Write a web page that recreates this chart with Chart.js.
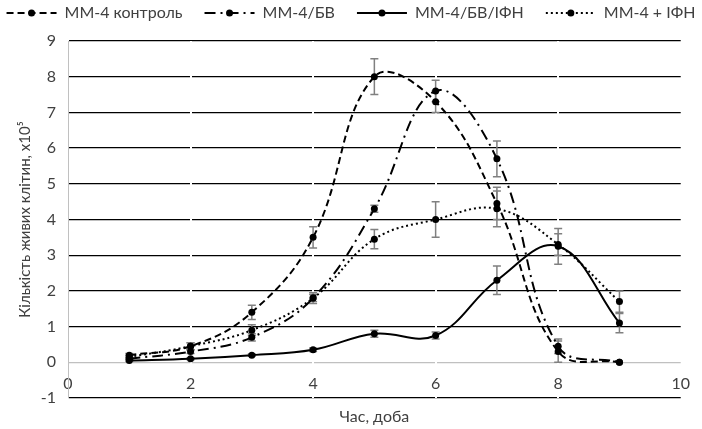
<!DOCTYPE html>
<html>
<head>
<meta charset="utf-8">
<script src="https://cdn.jsdelivr.net/npm/chart.js@4"></script>
<style>
  html, body { margin: 0; padding: 0; background: #fff; overflow: hidden; }
  canvas { display: block; }
</style>
</head>
<body>
<canvas id="chart" width="702" height="429"></canvas>
<script>
// дані графіка
const days = [1, 2, 3, 4, 5, 6, 7, 8, 9];
const control = [0.2, 0.45, 1.4, 3.5, 8.0, 7.3, 4.45, 0.3, 0];
const controlErr = [0.05, 0.1, 0.2, 0.3, 0.5, 0.3, 0.45, 0.3, 0];
const bv = [0.1, 0.3, 0.7, 1.8, 4.3, 7.6, 5.7, 0.45, 0];
const bvErr = [0.03, 0.05, 0.1, 0.1, 0.1, 0.3, 0.5, 0.2, 0];
const bvIfn = [0.05, 0.1, 0.2, 0.35, 0.8, 0.75, 2.3, 3.25, 1.1];
const bvIfnErr = [0.03, 0.03, 0.03, 0.05, 0.1, 0.1, 0.4, 0.5, 0.27];
const ifn = [0.15, 0.45, 0.9, 1.8, 3.45, 4.0, 4.3, 3.3, 1.7];
const ifnErr = [0.05, 0.1, 0.15, 0.15, 0.27, 0.5, 0.5, 0.3, 0.3];

const seriesNames = ['ММ-4 контроль', 'ММ-4/БВ', 'ММ-4/БВ/ІФН', 'ММ-4 + ІФН'];
const xTicks = [0, 2, 4, 6, 8, 10];
const yTicks = [-1, 0, 1, 2, 3, 4, 5, 6, 7, 8, 9];

const FONT = 'Lato, "Open Sans", sans-serif';
const TEXT = '#404040';

function pts(vals) {
  return days.map((d, i) => ({ x: d, y: vals[i] }));
}

function ds(label, vals, errs, dash) {
  return {
    label: label,
    data: pts(vals),
    errors: errs,
    borderColor: '#000',
    backgroundColor: '#000',
    borderWidth: 2,
    borderDash: dash,
    pointRadius: 3.5,
    pointBorderWidth: 0,
    tension: 0.4,
    fill: false
  };
}

// похибки (сірі вуса)
const errorBars = {
  id: 'errorBars',
  beforeDatasetsDraw(chart) {
    const ctx = chart.ctx;
    const y = chart.scales.y;
    ctx.save();
    ctx.strokeStyle = '#808080';
    ctx.lineWidth = 1.5;
    chart.data.datasets.forEach((d, di) => {
      const meta = chart.getDatasetMeta(di);
      meta.data.forEach((p, i) => {
        const e = d.errors[i];
        if (!e) return;
        const v = d.data[i].y;
        const top = y.getPixelForValue(v + e);
        const bot = y.getPixelForValue(v - e);
        ctx.beginPath();
        ctx.moveTo(p.x, top); ctx.lineTo(p.x, bot);
        ctx.moveTo(p.x - 4, top); ctx.lineTo(p.x + 4, top);
        ctx.moveTo(p.x - 4, bot); ctx.lineTo(p.x + 4, bot);
        ctx.stroke();
      });
    });
    ctx.restore();
  }
};

// легенда та підписи осей
const extras = {
  id: 'extras',
  afterDraw(chart) {
    const ctx = chart.ctx;
    const area = chart.chartArea;
    ctx.save();
    ctx.fillStyle = '#000';
    ctx.font = '16px ' + FONT;
    ctx.textBaseline = 'middle';
    const sample = 50, gapText = 8, gapItem = 22, ly = 13;
    const widths = seriesNames.map(n => ctx.measureText(n).width);
    let total = widths.reduce((a, b) => a + b, 0) + seriesNames.length * (sample + gapText) + (seriesNames.length - 1) * gapItem;
    let x = (chart.width - total) / 2;
    chart.data.datasets.forEach((d, i) => {
      ctx.strokeStyle = '#000';
      ctx.lineWidth = 2;
      ctx.setLineDash(d.borderDash || []);
      ctx.beginPath();
      ctx.moveTo(x, ly); ctx.lineTo(x + sample, ly);
      ctx.stroke();
      ctx.setLineDash([]);
      ctx.beginPath();
      ctx.arc(x + sample / 2, ly, 3.5, 0, Math.PI * 2);
      ctx.fill();
      x += sample + gapText;
      ctx.fillStyle = TEXT;
      ctx.textAlign = 'left';
      ctx.fillText(seriesNames[i], x, ly);
      ctx.fillStyle = '#000';
      x += widths[i] + gapItem;
    });

    ctx.fillStyle = TEXT;
    ctx.textAlign = 'center';
    ctx.fillText('Час, доба', (area.left + area.right) / 2, 417);

    ctx.font = '15px ' + FONT;
    ctx.translate(25, (area.top + area.bottom) / 2);
    ctx.rotate(-Math.PI / 2);
    ctx.fillText('Кількість живих клітин, х10⁵', 0, 0);
    ctx.restore();
  }
};

new Chart(document.getElementById('chart'), {
  type: 'line',
  data: {
    datasets: [
      ds(seriesNames[0], control, controlErr, [7, 4]),
      ds(seriesNames[1], bv, bvErr, [11, 5, 2, 5]),
      ds(seriesNames[2], bvIfn, bvIfnErr, []),
      ds(seriesNames[3], ifn, ifnErr, [2, 3])
    ]
  },
  options: {
    responsive: false,
    animation: false,
    layout: { padding: { top: 41, right: -6, left: 0, bottom: 31 } },
    plugins: {
      legend: { display: false },
      tooltip: { enabled: false }
    },
    scales: {
      x: {
        type: 'linear',
        position: { y: 0 },
        min: 0,
        max: 10,
        afterBuildTicks: s => { s.ticks = xTicks.map(v => ({ value: v })); },
        ticks: { font: { family: FONT, size: 16 }, color: TEXT, padding: 12, maxRotation: 0 },
        grid: {
          z: 0,
          drawTicks: false,
          lineWidth: 2,
          color: c => (c.tick && (c.tick.value === 0 || c.tick.value === 10)) ? 'rgba(0,0,0,0)' : '#fff'
        },
        border: { display: false }
      },
      y: {
        min: -1,
        max: 9,
        afterBuildTicks: s => { s.ticks = yTicks.map(v => ({ value: v })); },
        afterFit: s => { s.width = 68; },
        ticks: { font: { family: FONT, size: 16 }, color: TEXT, padding: 12 },
        grid: {
          z: -1,
          drawTicks: false,
          lineWidth: 1.3,
          color: c => (c.tick && c.tick.value === 0) ? '#c0c0c0' : '#000'
        },
        border: { display: true, color: '#c0c0c0', width: 1 }
      }
    }
  },
  plugins: [errorBars, extras]
});
</script>
</body>
</html>
